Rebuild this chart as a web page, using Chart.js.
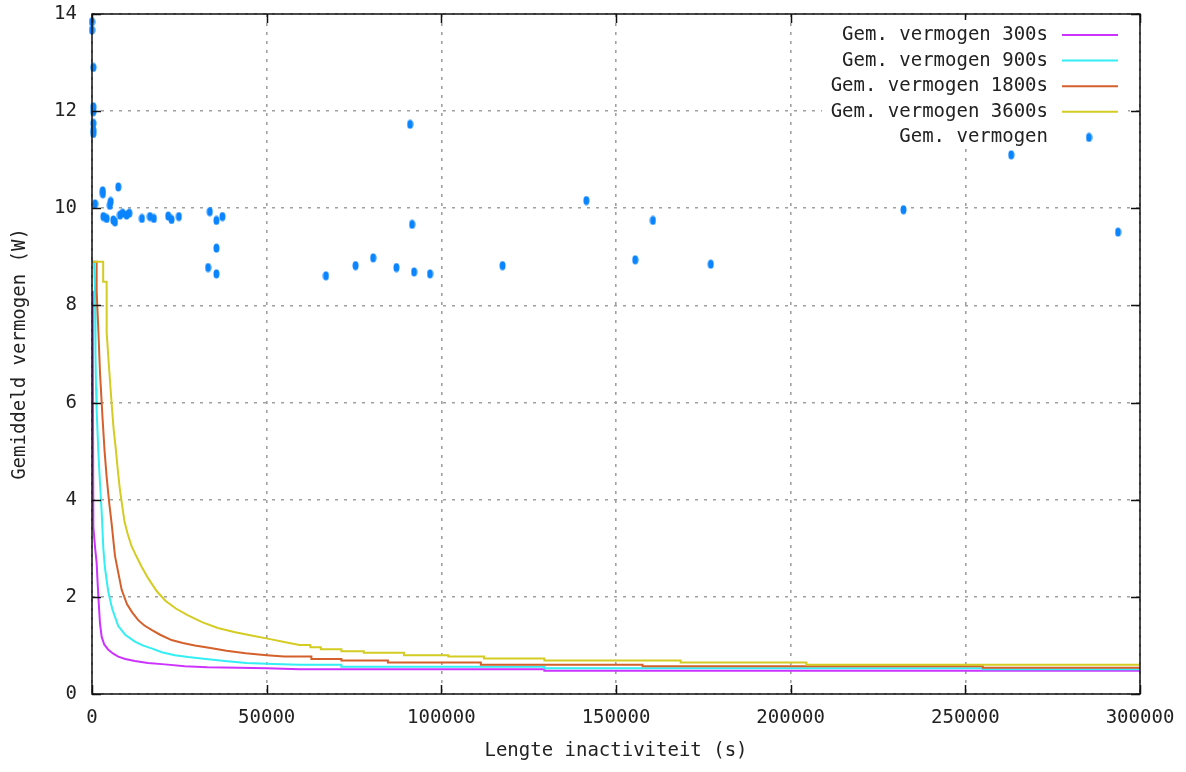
<!DOCTYPE html>
<html>
<head>
<meta charset="utf-8">
<script src="https://cdn.jsdelivr.net/npm/chart.js@4/dist/chart.umd.min.js"></script>
<style>
  html, body { margin: 0; padding: 0; background: #fff; overflow: hidden; }
  canvas { display: block; }
</style>
</head>
<body>
<canvas id="chart" width="1186" height="772"></canvas>
<script>
// measured points: length of inactivity (s) vs mean power (W)
const pointsX = [0, 0, 380, 380, 380, 380, 380, 380, 860, 3050, 3100, 5340, 5100, 7520,
  3240, 4190, 6090, 6570, 8000, 8760, 9900, 10670, 14290, 16570, 17710, 21810, 22760, 24860,
  33710, 35620, 37330, 35620, 33240, 35620, 66960, 75430, 80480, 87140, 91060, 91630, 92200,
  96770, 117510, 141510, 155510, 160570, 177140, 232290, 263140, 284860, 293710]
const pointsY = [13.84, 13.67, 12.9, 12.09, 11.99, 11.75, 11.61, 11.54, 10.09, 10.36, 10.3, 10.14, 10.06, 10.44,
  9.83, 9.79, 9.76, 9.72, 9.86, 9.9, 9.86, 9.9, 9.79, 9.83, 9.79, 9.84, 9.77, 9.83,
  9.93, 9.75, 9.83, 9.18, 8.78, 8.65, 8.61, 8.82, 8.98, 8.78, 11.73, 9.67, 8.69,
  8.65, 8.82, 10.16, 8.94, 9.75, 8.85, 9.97, 11.1, 11.49, 9.51]

// averaged curves: smooth knee, flat plateaus in the tail
const avg300X = [200, 380, 900, 1330, 1600, 1900, 2290, 2760, 3500, 4670, 6090, 7520, 9500,
  12290, 16000, 20860, 26570, 33000, 42000, 50000, 59400, 129500, 129500, 300000]
const avg300Y = [8.3, 3.44, 3.0, 2.7, 2.3, 1.9, 1.45, 1.18, 1.02, 0.91, 0.83, 0.77, 0.72,
  0.68, 0.64, 0.61, 0.57, 0.55, 0.54, 0.53, 0.51, 0.51, 0.48, 0.48]

const avg900X = [50, 600, 860, 1000, 1150, 1330, 1800, 2290, 2800, 3240, 3700, 4670, 5800, 7520,
  9500, 12290, 14500, 17050, 20000, 23710, 27500, 31330, 38000, 44200, 52000, 59400, 71400, 71400,
  129500, 129500, 255000, 255000, 300000]
const avg900Y = [8.9, 8.9, 8.3, 7.0, 6.3, 5.84, 5.0, 4.34, 3.7, 3.0, 2.6, 2.1, 1.75, 1.4,
  1.22, 1.08, 1.0, 0.94, 0.86, 0.8, 0.76, 0.73, 0.68, 0.64, 0.62, 0.6, 0.6, 0.56,
  0.56, 0.53, 0.53, 0.51, 0.51]

const avg1800X = [100, 1330, 1330, 1810, 2300, 3050, 3600, 4190, 4900, 5620, 6570, 7520, 8480,
  10000, 11500, 13230, 15000, 17050, 19500, 22760, 26000, 29430, 33500, 38500, 44000, 50000, 55000,
  62800, 62800, 71400, 71400, 84700, 84700, 111300, 111300, 157600, 157600, 255000, 255000, 300000]
const avg1800Y = [8.9, 8.9, 8.3, 7.5, 6.6, 5.64, 5.0, 4.47, 3.95, 3.51, 2.85, 2.5, 2.15,
  1.85, 1.68, 1.52, 1.41, 1.32, 1.22, 1.11, 1.05, 1.0, 0.95, 0.89, 0.84, 0.8, 0.77,
  0.77, 0.72, 0.72, 0.69, 0.69, 0.65, 0.65, 0.6, 0.6, 0.57, 0.57, 0.54, 0.54]

const avg3600X = [150, 3200, 3200, 4190, 4190, 4800, 5300, 5700, 6200, 6800, 7400, 8000, 8600, 9300,
  10200, 11300, 12600, 14200, 16100, 18500, 21000, 24000, 27500, 31500, 36000, 41000, 46000, 51000,
  55000, 59400, 62500, 62500, 65500, 65500, 71400, 71400, 77800, 77800, 89300, 89300, 102000, 102000,
  112200, 112200, 129500, 129500, 168500, 168500, 204500, 204500, 300000]
const avg3600Y = [8.9, 8.9, 8.49, 8.49, 7.45, 6.8, 6.3, 5.9, 5.45, 5.05, 4.6, 4.2, 3.9, 3.55,
  3.3, 3.05, 2.85, 2.62, 2.38, 2.12, 1.92, 1.76, 1.62, 1.48, 1.36, 1.27, 1.2, 1.13,
  1.07, 1.01, 1.01, 0.96, 0.96, 0.92, 0.92, 0.88, 0.88, 0.85, 0.85, 0.8, 0.8, 0.77,
  0.77, 0.73, 0.73, 0.69, 0.69, 0.65, 0.65, 0.6, 0.6]

const seriesNames = ['Gem. vermogen 300s', 'Gem. vermogen 900s', 'Gem. vermogen 1800s', 'Gem. vermogen 3600s', 'Gem. vermogen']
const seriesColors = ['#cc33ff', '#33eef2', '#d4602c', '#d4cc22', '#0a84ff']

const FONT = "'DejaVu Sans Mono', monospace"
const TEXT = '#222'

const toXY = (xs, ys) => xs.map((x, i) => ({ x: x, y: ys[i] }))

// small vertical ellipse, like the gnuplot dots
const dot = document.createElement('canvas')
dot.width = 7
dot.height = 10
const dctx = dot.getContext('2d')
dctx.fillStyle = seriesColors[4]
dctx.beginPath()
dctx.ellipse(3.5, 5, 3, 4.6, 0, 0, Math.PI * 2)
dctx.fill()

const lineSet = (i, xs, ys) => ({
  type: 'line',
  label: seriesNames[i],
  data: toXY(xs, ys),
  borderColor: seriesColors[i],
  borderWidth: 2,
  pointRadius: 0,
  showLine: true,
  tension: 0,
  fill: false,
  order: 5 - i
})

const frame = {
  id: 'frame',
  beforeDraw(chart) {
    const ctx = chart.ctx
    ctx.save()
    ctx.fillStyle = '#fff'
    ctx.fillRect(0, 0, chart.width, chart.height)
    ctx.restore()
  },
  afterDraw(chart) {
    const ctx = chart.ctx
    const a = chart.chartArea
    const xs = chart.scales.x
    const ys = chart.scales.y
    ctx.save()
    ctx.strokeStyle = '#111'
    ctx.lineWidth = 1.5
    ctx.strokeRect(a.left, a.top, a.right - a.left, a.bottom - a.top)
    // inward tick marks on all sides
    ctx.beginPath()
    xs.ticks.forEach(t => {
      const px = Math.round(xs.getPixelForValue(t.value)) + 0.5
      ctx.moveTo(px, a.bottom); ctx.lineTo(px, a.bottom - 9)
      ctx.moveTo(px, a.top); ctx.lineTo(px, a.top + 9)
    })
    ys.ticks.forEach(t => {
      const py = Math.round(ys.getPixelForValue(t.value)) + 0.5
      ctx.moveTo(a.left, py); ctx.lineTo(a.left + 9, py)
      ctx.moveTo(a.right, py); ctx.lineTo(a.right - 9, py)
    })
    ctx.stroke()

    // key, gnuplot style: text right aligned, sample to the right
    ctx.fillStyle = '#fff'
    ctx.fillRect(822, 20, 306, 128)
    ctx.font = '19px ' + FONT
    ctx.textAlign = 'right'
    ctx.textBaseline = 'middle'
    seriesNames.forEach((name, i) => {
      const y = 35 + i * 25.6
      ctx.fillStyle = TEXT
      ctx.fillText(name, 1048, y)
      if (i < 4) {
        ctx.strokeStyle = seriesColors[i]
        ctx.lineWidth = 2
        ctx.beginPath()
        ctx.moveTo(1062, y); ctx.lineTo(1118, y)
        ctx.stroke()
      } else {
        ctx.drawImage(dot, 1089 - 3.5, y - 5)
      }
    })
    ctx.restore()
  }
}

new Chart(document.getElementById('chart'), {
  type: 'scatter',
  data: {
    datasets: [
      lineSet(0, avg300X, avg300Y),
      lineSet(1, avg900X, avg900Y),
      lineSet(2, avg1800X, avg1800Y),
      lineSet(3, avg3600X, avg3600Y),
      {
        type: 'scatter',
        label: seriesNames[4],
        data: toXY(pointsX, pointsY),
        pointStyle: dot,
        pointRadius: 4,
        showLine: false,
        clip: false,
        order: 0
      }
    ]
  },
  options: {
    responsive: false,
    devicePixelRatio: 1,
    animation: false,
    layout: { padding: { top: 14, right: 46, bottom: 0, left: 0 } },
    plugins: { legend: { display: false }, tooltip: { enabled: false } },
    scales: {
      x: {
        type: 'linear',
        min: 0,
        max: 300000,
        afterFit(s) { s.height = 78; s.paddingLeft = 0; s.paddingRight = 0 },
        ticks: {
          stepSize: 50000,
          color: TEXT,
          padding: 13,
          maxRotation: 0,
          font: { family: FONT, size: 19 },
          callback: v => String(v)
        },
        grid: { color: '#a0a0a0', lineWidth: 1.6, drawTicks: false },
        border: { display: false, dash: [3, 6] },
        title: {
          display: true,
          text: 'Lengte inactiviteit (s)',
          color: TEXT,
          font: { family: FONT, size: 19 },
          padding: { top: 0, bottom: 10 }
        }
      },
      y: {
        type: 'linear',
        min: 0,
        max: 14,
        afterFit(s) { s.width = 92; s.paddingTop = 0; s.paddingBottom = 0 },
        ticks: {
          stepSize: 2,
          color: TEXT,
          padding: 15,
          font: { family: FONT, size: 19 },
          callback: v => String(v)
        },
        grid: { color: '#a0a0a0', lineWidth: 1.6, drawTicks: false },
        border: { display: false, dash: [3, 6] },
        title: {
          display: true,
          text: 'Gemiddeld vermogen (W)',
          color: TEXT,
          font: { family: FONT, size: 19 },
          padding: { top: 9, bottom: 0 }
        }
      }
    }
  },
  plugins: [frame]
})
</script>
</body>
</html>
